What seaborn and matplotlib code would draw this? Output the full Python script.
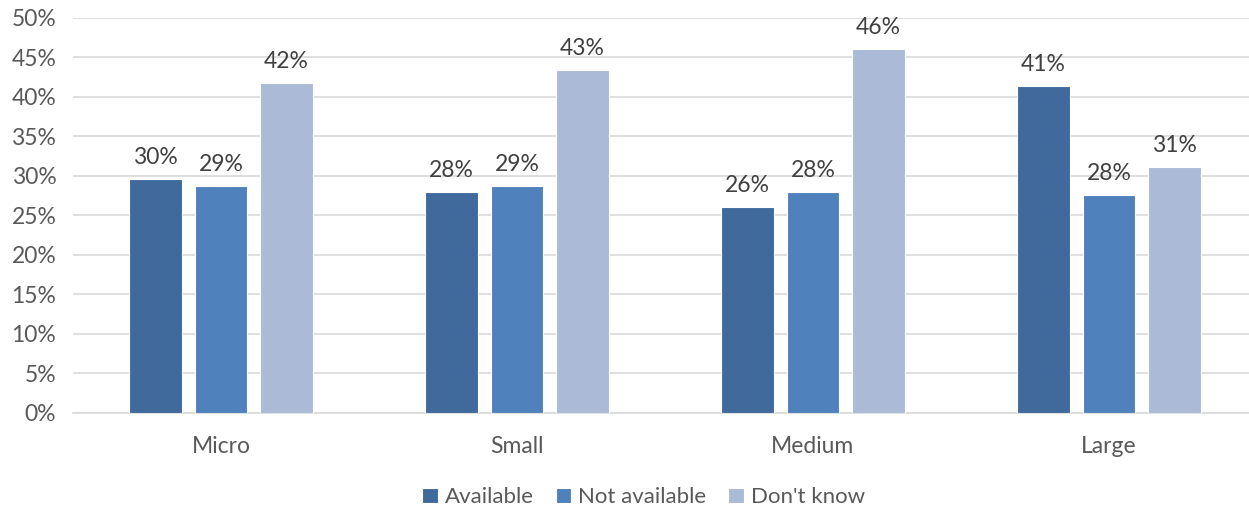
import matplotlib
matplotlib.use("Agg")
import matplotlib.pyplot as plt
from matplotlib.ticker import MultipleLocator, FuncFormatter
import seaborn as sns
import pandas as pd

categories = ["Micro", "Small", "Medium", "Large"]
series = ["Available", "Not available", "Don't know"]
available = [29.6, 28.0, 26.0, 41.4]
not_available = [28.7, 28.7, 28.0, 27.6]
dont_know = [41.8, 43.4, 46.1, 31.1]
colors = ["#3F6A9B", "#4F81BD", "#AABAD7"]

rows = []
for name, vals in zip(series, [available, not_available, dont_know]):
    for cat, v in zip(categories, vals):
        rows.append({"Size": cat, "Status": name, "Share": v})
df = pd.DataFrame(rows)

sns.set_theme(style="white")
plt.rcParams["font.family"] = ["Lato", "DejaVu Sans"]

fig = plt.figure(figsize=(12.49, 5.11), dpi=100)
ax = fig.add_axes([0.0584, 0.192, 0.948, 0.773])

sns.barplot(data=df, x="Size", y="Share", hue="Status", order=categories,
            hue_order=series, palette=colors, saturation=1, width=0.664, gap=0.2,
            edgecolor="white", linewidth=0.8, ax=ax, legend=True, zorder=3)

for container in ax.containers:
    ax.bar_label(container, labels=[f"{v:.0f}%" for v in container.datavalues],
                 padding=8, fontsize=16.5, color="#404040")

ax.set_ylim(0, 50)
ax.set_xlim(-0.5, 3.5)
ax.yaxis.set_major_locator(MultipleLocator(5))
ax.yaxis.set_major_formatter(FuncFormatter(lambda v, p: f"{v:.0f}%"))
ax.grid(axis="y", color="#D9D9D9", linewidth=1.2, zorder=0)
ax.set_axisbelow(True)
for s in ["top", "right", "left"]:
    ax.spines[s].set_visible(False)
ax.spines["bottom"].set_color("#D9D9D9")
ax.spines["bottom"].set_linewidth(1.2)
ax.set_xlabel("")
ax.set_ylabel("")
ax.tick_params(axis="both", length=0, labelsize=16.5, colors="#595959")
ax.tick_params(axis="x", pad=17)
ax.tick_params(axis="y", pad=12)

handles, labels = ax.get_legend_handles_labels()
ax.legend(handles, labels, loc="lower center", bbox_to_anchor=(0.5 - 0.018, -0.29),
          ncol=3, frameon=False, fontsize=16, handlelength=0.7,
          handleheight=0.7, handletextpad=0.3, columnspacing=1.0,
          labelcolor="#595959")

fig.savefig("out.png", dpi=100)
